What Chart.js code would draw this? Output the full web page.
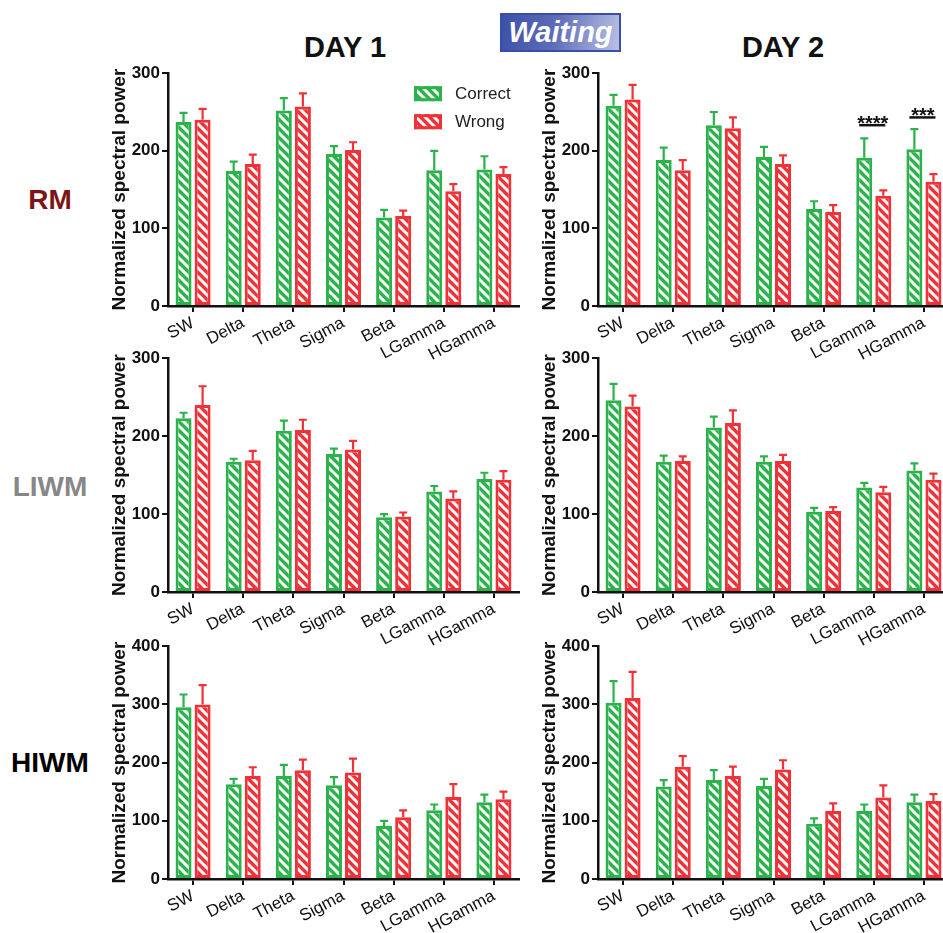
<!DOCTYPE html>
<html>
<head>
<meta charset="utf-8">
<script src="https://cdn.jsdelivr.net/npm/chart.js@4.4.1/dist/chart.umd.min.js"></script>
<style>
  html, body { margin: 0; padding: 0; background: #fff; overflow: hidden; }
  body { width: 943px; height: 933px; position: relative; font-family: "Liberation Sans", Arial, sans-serif; }
  canvas { position: absolute; }
  .lbl { position: absolute; font-weight: bold; white-space: nowrap; line-height: 1; transform: translateX(-50%); }
  #waiting {
    position: absolute; left: 500px; top: 13px; width: 117px; height: 35px;
    border: 2px solid #3a4ea6;
    background: linear-gradient(100deg, #3d50a8 0%, #5d6cb9 45%, #b9c0e3 100%);
    color: #fff; font: italic bold 29px "Liberation Sans", Arial, sans-serif;
    line-height: 35px; text-align: center;
  }
</style>
</head>
<body>
<div id="waiting">Waiting</div>
<div class="lbl" style="left:345px;top:33px;font-size:29px;color:#111">DAY 1</div>
<div class="lbl" style="left:783px;top:33px;font-size:29px;color:#111">DAY 2</div>
<div class="lbl" style="left:50px;top:186px;font-size:28px;color:#7b1616">RM</div>
<div class="lbl" style="left:50px;top:473px;font-size:28px;color:#878787">LIWM</div>
<div class="lbl" style="left:50px;top:749px;font-size:28px;color:#000">HIWM</div>

<canvas id="rm1"></canvas>
<canvas id="rm2"></canvas>
<canvas id="liwm1"></canvas>
<canvas id="liwm2"></canvas>
<canvas id="hiwm1"></canvas>
<canvas id="hiwm2"></canvas>

<script>
// bands
const bands = ['SW', 'Delta', 'Theta', 'Sigma', 'Beta', 'LGamma', 'HGamma'];

// y ticks
const ticks300 = [0, 100, 200, 300];
const ticks400 = [0, 100, 200, 300, 400];

// RM
const rmDay1Correct    = [237, 174, 252, 196, 114, 175, 176];
const rmDay1CorrectErr = [12, 12, 16, 10, 10, 25, 17];
const rmDay1Wrong      = [240, 183, 257, 201, 116, 148, 170];
const rmDay1WrongErr   = [14, 12, 17, 10, 7, 9, 9];
const rmDay2Correct    = [258, 188, 233, 192, 125, 191, 202];
const rmDay2CorrectErr = [14, 16, 17, 13, 10, 25, 26];
const rmDay2Wrong      = [266, 175, 229, 183, 121, 142, 160];
const rmDay2WrongErr   = [19, 13, 14, 11, 9, 7, 10];

// LIWM
const liwmDay1Correct    = [223, 167, 207, 177, 96, 129, 145];
const liwmDay1CorrectErr = [7, 4, 13, 7, 4, 7, 8];
const liwmDay1Wrong      = [240, 169, 208, 183, 97, 120, 144];
const liwmDay1WrongErr   = [24, 12, 13, 11, 5, 9, 11];
const liwmDay2Correct    = [246, 167, 211, 167, 103, 134, 156];
const liwmDay2CorrectErr = [21, 8, 14, 7, 5, 6, 9];
const liwmDay2Wrong      = [238, 168, 217, 168, 104, 128, 144];
const liwmDay2WrongErr   = [14, 6, 16, 8, 5, 7, 8];

// HIWM
const hiwmDay1Correct    = [295, 163, 177, 161, 91, 118, 132];
const hiwmDay1CorrectErr = [22, 9, 19, 14, 9, 10, 13];
const hiwmDay1Wrong      = [300, 177, 187, 183, 106, 141, 137];
const hiwmDay1WrongErr   = [33, 15, 18, 24, 12, 22, 13];
const hiwmDay2Correct    = [303, 159, 170, 160, 95, 117, 132];
const hiwmDay2CorrectErr = [37, 11, 17, 12, 9, 11, 13];
const hiwmDay2Wrong      = [311, 193, 177, 188, 117, 140, 134];
const hiwmDay2WrongErr   = [45, 18, 16, 16, 13, 21, 12];

// significance (RM day 2)
const sigBands  = ['LGamma', 'HGamma'];
const sigStars  = ['****', '***'];
const sigLevels = [233, 243];

const GREEN = '#2bb24b';
const RED = '#ee3237';
const FONT = '"Liberation Sans", Arial, sans-serif';
Chart.defaults.font.family = FONT;

function hatch(color) {
  const n = 9;
  const c = document.createElement('canvas');
  c.width = n; c.height = n;
  const g = c.getContext('2d');
  g.fillStyle = color;
  g.fillRect(0, 0, n, n);
  g.strokeStyle = '#fff';
  g.lineWidth = 3;
  g.beginPath();
  for (const k of [-n, 0, n]) { g.moveTo(k - 1, -1); g.lineTo(k + n + 1, n + 1); }
  g.stroke();
  return g.createPattern(c, 'repeat');
}
const greenHatch = hatch(GREEN);
const redHatch = hatch(RED);

// error bars, upward only
const errorBars = {
  id: 'errorBars',
  afterDatasetsDraw(chart) {
    const ctx = chart.ctx, y = chart.scales.y;
    chart.data.datasets.forEach((ds, i) => {
      chart.getDatasetMeta(i).data.forEach((bar, j) => {
        const top = y.getPixelForValue(ds.data[j] + ds.errors[j]);
        ctx.save();
        ctx.strokeStyle = ds.borderColor;
        ctx.lineWidth = 2.2;
        ctx.beginPath();
        ctx.moveTo(bar.x, bar.y);
        ctx.lineTo(bar.x, top);
        ctx.moveTo(bar.x - 4, top);
        ctx.lineTo(bar.x + 4, top);
        ctx.stroke();
        ctx.restore();
      });
    });
  }
};

const boxLegend = {
  id: 'boxLegend',
  afterDraw(chart) {
    const ctx = chart.ctx, area = chart.chartArea;
    chart.data.datasets.forEach((ds, i) => {
      const x = area.left + 246, y = area.top + 13 + i * 28;
      ctx.save();
      ctx.fillStyle = ds.backgroundColor;
      ctx.fillRect(x, y, 28, 15);
      ctx.strokeStyle = ds.borderColor;
      ctx.lineWidth = 3;
      ctx.strokeRect(x + 1.5, y + 1.5, 25, 12);
      ctx.fillStyle = '#222';
      ctx.font = '17px ' + FONT;
      ctx.textBaseline = 'middle';
      ctx.fillText(ds.label, x + 41, y + 8);
      ctx.restore();
    });
  }
};

const sigMarks = {
  id: 'sigMarks',
  afterDraw(chart) {
    const ctx = chart.ctx, y = chart.scales.y;
    const g = chart.getDatasetMeta(0).data, r = chart.getDatasetMeta(1).data;
    sigBands.forEach((b, k) => {
      const j = bands.indexOf(b);
      const ly = y.getPixelForValue(sigLevels[k]);
      ctx.save();
      ctx.strokeStyle = '#111';
      ctx.lineWidth = 2.5;
      ctx.beginPath();
      ctx.moveTo(g[j].x - 5, ly);
      ctx.lineTo(r[j].x + 2, ly);
      ctx.stroke();
      ctx.fillStyle = '#111';
      ctx.font = 'bold 20px ' + FONT;
      ctx.textAlign = 'center';
      ctx.textBaseline = 'alphabetic';
      ctx.fillText(sigStars[k], (g[j].x + r[j].x) / 2 - 1, ly + 5);
      ctx.restore();
    });
  }
};

const PLOT_W = 351;
const panels = [
  { id: 'rm1',   axisX: 168, top: 73,  bottom: 306, ticks: ticks300, c: rmDay1Correct,   ce: rmDay1CorrectErr,   w: rmDay1Wrong,   we: rmDay1WrongErr,   extra: [boxLegend] },
  { id: 'rm2',   axisX: 598, top: 73,  bottom: 306, ticks: ticks300, c: rmDay2Correct,   ce: rmDay2CorrectErr,   w: rmDay2Wrong,   we: rmDay2WrongErr,   extra: [sigMarks] },
  { id: 'liwm1', axisX: 168, top: 358, bottom: 592, ticks: ticks300, c: liwmDay1Correct, ce: liwmDay1CorrectErr, w: liwmDay1Wrong, we: liwmDay1WrongErr, extra: [] },
  { id: 'liwm2', axisX: 598, top: 358, bottom: 592, ticks: ticks300, c: liwmDay2Correct, ce: liwmDay2CorrectErr, w: liwmDay2Wrong, we: liwmDay2WrongErr, extra: [] },
  { id: 'hiwm1', axisX: 168, top: 646, bottom: 879, ticks: ticks400, c: hiwmDay1Correct, ce: hiwmDay1CorrectErr, w: hiwmDay1Wrong, we: hiwmDay1WrongErr, extra: [] },
  { id: 'hiwm2', axisX: 598, top: 646, bottom: 879, ticks: ticks400, c: hiwmDay2Correct, ce: hiwmDay2CorrectErr, w: hiwmDay2Wrong, we: hiwmDay2WrongErr, extra: [] }
];

panels.forEach(p => {
  const cv = document.getElementById(p.id);
  const W = 60 + PLOT_W + 4, H = 12 + (p.bottom - p.top) + 62;
  cv.width = W; cv.height = H;
  cv.style.left = (p.axisX - 60) + 'px';
  cv.style.top = (p.top - 12) + 'px';
  cv.style.width = W + 'px';
  cv.style.height = H + 'px';

  new Chart(cv, {
    type: 'bar',
    data: {
      labels: bands,
      datasets: [
        { label: 'Correct', data: p.c, errors: p.ce, backgroundColor: greenHatch, borderColor: GREEN,
          borderWidth: 3, borderSkipped: false, categoryPercentage: 0.76, barPercentage: 0.84 },
        { label: 'Wrong', data: p.w, errors: p.we, backgroundColor: redHatch, borderColor: RED,
          borderWidth: 3, borderSkipped: false, categoryPercentage: 0.76, barPercentage: 0.84 }
      ]
    },
    options: {
      responsive: false,
      animation: false,
      events: [],
      layout: { padding: { top: 12, right: 4, left: 0, bottom: 0 } },
      plugins: { legend: { display: false }, tooltip: { enabled: false } },
      scales: {
        x: {
          grid: { offset: false, drawOnChartArea: false, drawTicks: true, tickLength: 6, color: '#111', lineWidth: 2 },
          border: { display: true, color: '#111', width: 2.5 },
          ticks: { color: '#111', font: { size: 17 }, minRotation: 28, maxRotation: 28, padding: 1, autoSkip: false },
          afterFit(s) { s.height = 62; }
        },
        y: {
          min: p.ticks[0], max: p.ticks[p.ticks.length - 1],
          ticks: { stepSize: p.ticks[1] - p.ticks[0], color: '#111', font: { size: 17, weight: 'bold' }, padding: 2 },
          grid: { drawOnChartArea: false, tickLength: 6, color: '#111', lineWidth: 2 },
          border: { display: true, color: '#111', width: 2.5 },
          title: { display: true, text: 'Normalized spectral power', color: '#111',
                   font: { size: 19, weight: 'bold' }, padding: { top: 0, bottom: 0 } },
          afterFit(s) { s.width = 60; }
        }
      }
    },
    plugins: [errorBars].concat(p.extra)
  });
});
</script>
</body>
</html>
